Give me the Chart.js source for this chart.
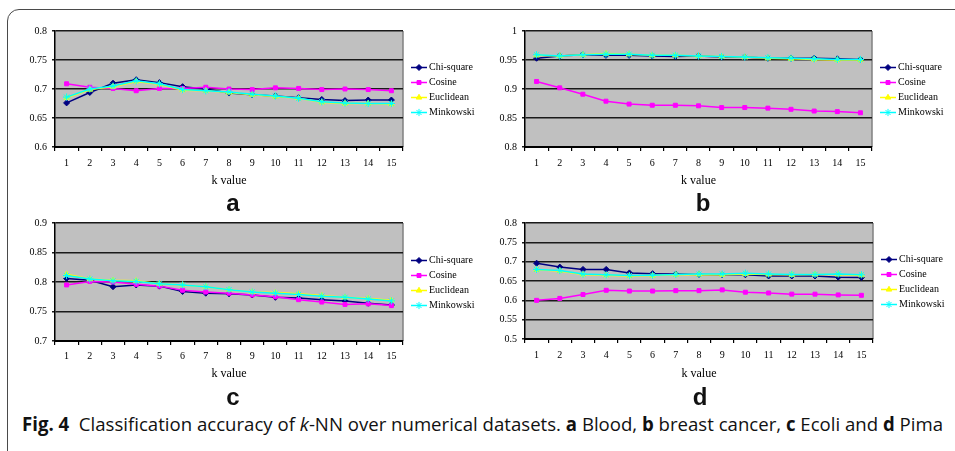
<!DOCTYPE html>
<html>
<head>
<meta charset="utf-8">
<script src="https://cdn.jsdelivr.net/npm/chart.js@4.4.1/dist/chart.umd.min.js"></script>
<style>
    html, body { margin: 0; padding: 0; background: #fff; }
    body { width: 955px; height: 451px; position: relative; overflow: hidden; }
    .frame { position: absolute; left: 7px; top: 9px; width: 990px; height: 452px;
             border: 1.5px solid #4a4a4a; border-radius: 12px; }
    canvas { position: absolute; }
    .tag { position: absolute; font: bold 24px "Liberation Sans", Arial, sans-serif;
           line-height: 24px; transform: translateX(-50%); color: #111; }
    #caption { position: absolute; left: 22px; top: 413px; white-space: nowrap;
               font-family: "Open Sans", "Noto Sans", sans-serif; font-size: 19px;
               line-height: 22px; color: #111; transform-origin: 0 0; }
    #caption b { font-weight: 700; }
</style>
</head>
<body>
<div class="frame"></div>
<canvas id="chartA"></canvas>
<canvas id="chartB"></canvas>
<canvas id="chartC"></canvas>
<canvas id="chartD"></canvas>
<div class="tag" style="left:233px; top:191px;">a</div>
<div class="tag" style="left:703px; top:191px;">b</div>
<div class="tag" style="left:233px; top:385px;">c</div>
<div class="tag" style="left:700px; top:385px;">d</div>
<div id="caption"><b>Fig. 4</b>&nbsp; Classification accuracy of <i>k</i>-NN over numerical datasets. <b>a</b> Blood, <b>b</b> breast cancer, <b>c</b> Ecoli and <b>d</b> Pima</div>

<script>
// k values on the x axis
var kValues = ['1', '2', '3', '4', '5', '6', '7', '8', '9', '10', '11', '12', '13', '14', '15'];
var seriesNames = ['Chi-square', 'Cosine', 'Euclidean', 'Minkowski'];

// a - Blood
var bloodChi  = [0.676, 0.694, 0.710, 0.716, 0.711, 0.704, 0.700, 0.693, 0.690, 0.688, 0.685, 0.682, 0.680, 0.681, 0.681];
var bloodCos  = [0.709, 0.703, 0.701, 0.697, 0.701, 0.701, 0.703, 0.700, 0.699, 0.702, 0.701, 0.699, 0.700, 0.699, 0.697];
var bloodEuc  = [0.685, 0.699, 0.704, 0.713, 0.708, 0.698, 0.697, 0.694, 0.690, 0.687, 0.684, 0.677, 0.675, 0.675, 0.674];
var bloodMink = [0.686, 0.700, 0.705, 0.714, 0.709, 0.699, 0.697, 0.695, 0.691, 0.688, 0.684, 0.678, 0.676, 0.675, 0.675];
var bloodRange = [0.6, 0.8];

// b - breast cancer
var breastChi  = [0.953, 0.957, 0.959, 0.958, 0.958, 0.957, 0.956, 0.957, 0.955, 0.955, 0.953, 0.953, 0.953, 0.952, 0.951];
var breastCos  = [0.913, 0.902, 0.891, 0.879, 0.874, 0.872, 0.872, 0.871, 0.868, 0.868, 0.867, 0.865, 0.862, 0.861, 0.859];
var breastEuc  = [0.958, 0.957, 0.959, 0.961, 0.960, 0.958, 0.958, 0.957, 0.956, 0.955, 0.953, 0.952, 0.951, 0.950, 0.950];
var breastMink = [0.959, 0.957, 0.959, 0.960, 0.960, 0.958, 0.958, 0.957, 0.956, 0.955, 0.954, 0.953, 0.952, 0.951, 0.951];
var breastRange = [0.8, 1.0];

// c - Ecoli
var ecoliChi  = [0.806, 0.803, 0.792, 0.795, 0.793, 0.784, 0.781, 0.780, 0.778, 0.774, 0.773, 0.770, 0.768, 0.764, 0.761];
var ecoliCos  = [0.795, 0.801, 0.800, 0.796, 0.793, 0.786, 0.783, 0.781, 0.778, 0.775, 0.770, 0.766, 0.762, 0.763, 0.760];
var ecoliEuc  = [0.813, 0.805, 0.803, 0.802, 0.797, 0.795, 0.792, 0.787, 0.783, 0.782, 0.780, 0.777, 0.774, 0.772, 0.769];
var ecoliMink = [0.811, 0.805, 0.802, 0.801, 0.797, 0.795, 0.792, 0.787, 0.783, 0.781, 0.779, 0.776, 0.774, 0.771, 0.768];
var ecoliRange = [0.7, 0.9];

// d - Pima
var pimaChi  = [0.696, 0.686, 0.680, 0.680, 0.671, 0.669, 0.668, 0.667, 0.666, 0.666, 0.663, 0.663, 0.663, 0.660, 0.659];
var pimaCos  = [0.600, 0.605, 0.615, 0.626, 0.624, 0.624, 0.625, 0.625, 0.627, 0.621, 0.619, 0.616, 0.616, 0.614, 0.613];
var pimaEuc  = [0.679, 0.676, 0.667, 0.665, 0.663, 0.664, 0.666, 0.667, 0.666, 0.668, 0.667, 0.666, 0.667, 0.667, 0.665];
var pimaMink = [0.680, 0.677, 0.668, 0.666, 0.664, 0.665, 0.667, 0.668, 0.668, 0.670, 0.668, 0.667, 0.667, 0.668, 0.666];
var pimaRange = [0.5, 0.8];

var lineColors = ['#000080', '#ff00ff', '#ffff00', '#00ffff'];
var markerStyles = ['rectRot', 'rect', 'triangle', 'star'];
var markerSizes = [3, 2.8, 3.2, 3.6];

var serif = '"Liberation Serif", "Times New Roman", serif';

// grey plot background + grey right edge, like the old Excel charts
var plotBackground = {
    id: 'plotBackground',
    beforeDraw: function (chart) {
        var a = chart.chartArea, ctx = chart.ctx;
        ctx.save();
        ctx.fillStyle = '#c0c0c0';
        ctx.fillRect(a.left, a.top, a.right - a.left, a.bottom - a.top);
        ctx.strokeStyle = '#808080';
        ctx.lineWidth = 1.5;
        ctx.beginPath();
        ctx.moveTo(a.right, a.top);
        ctx.lineTo(a.right, a.bottom);
        ctx.stroke();
        ctx.restore();
    }
};

// legend to the right: short line with the marker on it
var sideLegend = {
    id: 'sideLegend',
    afterDraw: function (chart) {
        var a = chart.chartArea, ctx = chart.ctx;
        var mid = (a.top + a.bottom) / 2 + 1;
        ctx.save();
        chart.data.datasets.forEach(function (ds, i) {
            var y = mid + (i - 1.5) * 15;
            var x0 = a.right + 8, x1 = a.right + 24;
            ctx.strokeStyle = ds.borderColor;
            ctx.lineWidth = 1.5;
            ctx.beginPath();
            ctx.moveTo(x0, y);
            ctx.lineTo(x1, y);
            ctx.stroke();
            ctx.fillStyle = ds.pointBackgroundColor;
            ctx.strokeStyle = ds.pointBorderColor;
            ctx.lineWidth = 1;
            Chart.helpers.drawPoint(ctx, {
                pointStyle: ds.pointStyle, radius: ds.pointRadius, borderWidth: 1, rotation: 0
            }, (x0 + x1) / 2, y);
            ctx.fillStyle = '#000';
            ctx.font = '10px ' + serif;
            ctx.textBaseline = 'middle';
            ctx.textAlign = 'left';
            ctx.fillText(ds.label, x1 + 2, y);
        });
        ctx.restore();
    }
};

function makePanel(p) {
    var canvas = document.getElementById(p.id);
    var height = Math.round(p.titleY + 7 - p.top);
    canvas.width = p.width;
    canvas.height = height;
    canvas.style.left = p.left + 'px';
    canvas.style.top = p.top + 'px';
    canvas.style.width = p.width + 'px';
    canvas.style.height = height + 'px';
    var xAxisHeight = height - (p.plotBottom - p.top);

    var datasets = p.series.map(function (values, i) {
        return {
            label: seriesNames[i],
            data: values,
            borderColor: lineColors[i],
            backgroundColor: lineColors[i],
            pointBackgroundColor: lineColors[i],
            pointBorderColor: lineColors[i],
            pointStyle: markerStyles[i],
            pointRadius: markerSizes[i],
            pointBorderWidth: 1,
            borderWidth: 1.5,
            tension: 0,
            order: 3 - i
        };
    });

    return new Chart(canvas.getContext('2d'), {
        type: 'line',
        data: { labels: kValues, datasets: datasets },
        options: {
            responsive: false,
            animation: false,
            devicePixelRatio: 1,
            layout: {
                padding: { top: p.plotTop - p.top, right: p.left + p.width - p.plotRight, bottom: 0, left: 0 }
            },
            plugins: { legend: { display: false }, tooltip: { enabled: false } },
            scales: {
                x: {
                    offset: true,
                    grid: { display: true, offset: true, drawOnChartArea: false, drawTicks: true,
                            tickLength: 4, color: '#000', lineWidth: 1.2 },
                    border: { color: '#000', width: 2 },
                    ticks: { color: '#000', padding: p.tickPad, maxRotation: 0, autoSkip: false,
                             font: { family: serif, size: 10 } },
                    title: { display: true, text: 'k value', color: '#000', padding: 0,
                             font: { family: serif, size: 12 } },
                    afterFit: function (scale) { scale.height = xAxisHeight; }
                },
                y: {
                    min: p.range[0],
                    max: p.range[1],
                    grid: { color: '#1a1a1a', lineWidth: 1.5, drawTicks: true, tickLength: 3 },
                    border: { color: '#000', width: 1.5 },
                    ticks: {
                        stepSize: 0.05, color: '#000', padding: 5,
                        font: { family: serif, size: 10 },
                        callback: function (v) { return String(Number(v.toFixed(2))); }
                    },
                    afterFit: function (scale) { scale.width = p.plotLeft - p.left; }
                }
            }
        },
        plugins: [plotBackground, sideLegend]
    });
}

document.addEventListener('DOMContentLoaded', function () {
    makePanel({ id: 'chartA', left: 0, top: 20, width: 480,
                plotLeft: 55, plotRight: 403, plotTop: 29, plotBottom: 147, titleY: 181, tickPad: 6,
                range: bloodRange, series: [bloodChi, bloodCos, bloodEuc, bloodMink] });
    makePanel({ id: 'chartB', left: 470, top: 20, width: 485,
                plotLeft: 525, plotRight: 872, plotTop: 29, plotBottom: 147, titleY: 181, tickPad: 6,
                range: breastRange, series: [breastChi, breastCos, breastEuc, breastMink] });
    makePanel({ id: 'chartC', left: 0, top: 212, width: 480,
                plotLeft: 55, plotRight: 403, plotTop: 223, plotBottom: 341, titleY: 374, tickPad: 5,
                range: ecoliRange, series: [ecoliChi, ecoliCos, ecoliEuc, ecoliMink] });
    makePanel({ id: 'chartD', left: 470, top: 212, width: 485,
                plotLeft: 525, plotRight: 873, plotTop: 223, plotBottom: 339, titleY: 374, tickPad: 6,
                range: pimaRange, series: [pimaChi, pimaCos, pimaEuc, pimaMink] });

    // stretch the caption to the width it has in the figure
    var cap = document.getElementById('caption');
    var w = cap.getBoundingClientRect().width;
    cap.style.transform = 'scaleX(' + (921 / w) + ')';
});
</script>
</body>
</html>
